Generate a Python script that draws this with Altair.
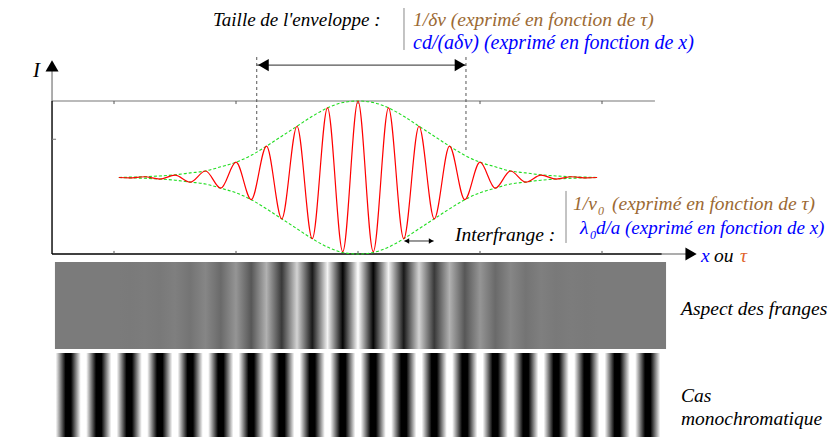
import altair as alt
import pandas as pd

# ---------------- data ----------------
# x position in units of the axis ticks (0 = centre), I = intensity (0 = axis, 2 = max)
wave_u = [-1.96, -1.875, -1.75, -1.625, -1.5, -1.375, -1.25, -1.125, -1.0, -0.875, -0.75,
          -0.625, -0.5, -0.375, -0.25, -0.125, 0.0, 0.125, 0.25, 0.375, 0.5, 0.625, 0.75,
          0.875, 1.0, 1.125, 1.25, 1.375, 1.5, 1.625, 1.75, 1.875, 1.96]
wave_I = [1.0, 0.995, 1.01, 0.98, 1.03, 0.94, 1.085, 0.86, 1.20, 0.71, 1.41,
          0.46, 1.67, 0.20, 1.91, 0.03, 2.0, 0.03, 1.91, 0.20, 1.67, 0.46, 1.41,
          0.71, 1.20, 0.86, 1.085, 0.94, 1.03, 0.98, 1.01, 0.995, 1.0]
env_amp = [0.0, 0.005, 0.01, 0.02, 0.035, 0.06, 0.085, 0.14, 0.20, 0.29, 0.41,
           0.54, 0.67, 0.80, 0.91, 0.98, 1.0, 0.98, 0.91, 0.80, 0.67, 0.54, 0.41,
           0.29, 0.20, 0.14, 0.085, 0.06, 0.035, 0.02, 0.01, 0.005, 0.0]
mono_dark = [-2.375, -2.125, -1.875, -1.625, -1.375, -1.125, -0.875, -0.625, -0.375, -0.125,
             0.125, 0.375, 0.625, 0.875, 1.125, 1.375, 1.625, 1.875, 2.125, 2.375]
mono_bright = [-2.5, -2.25, -2.0, -1.75, -1.5, -1.25, -1.0, -0.75, -0.5, -0.25, 0.0,
               0.25, 0.5, 0.75, 1.0, 1.25, 1.5, 1.75, 2.0, 2.25, 2.5]
tick_u = [-2, -1, 0, 1, 2]
envelope_marks = [-0.83, 0.885]

# ---------------- scales ----------------
W, H = 824, 429
xs = alt.Scale(domain=[-350 / 122, (W - 350) / 122], range=[0, W], nice=False, zero=False)
ys = alt.Scale(domain=[(246 - H) / 76.5, 246 / 76.5], range=[H, 0], nice=False, zero=False)
I_BOTTOM = (246 - H) / 76.5


def X(f):
    return alt.X(f, type="quantitative", scale=xs, axis=None)


def Y(f):
    return alt.Y(f, type="quantitative", scale=ys, axis=None)


def seg(rows, color, width=1.0, dash=None):
    df = pd.DataFrame(rows, columns=["x1", "x2", "y1", "y2"])
    kw = dict(color=color, strokeWidth=width)
    if dash:
        kw["strokeDash"] = dash
    return alt.Chart(df).mark_rule(**kw).encode(x=X("x1"), x2="x2", y=Y("y1"), y2="y2")


def tri(u, i, shape, size):
    df = pd.DataFrame({"u": [u], "i": [i]})
    return alt.Chart(df).mark_point(shape=shape, filled=True, color="black", size=size,
                                    opacity=1, strokeWidth=0).encode(x=X("u"), y=Y("i"))


def gray_of(I):
    g = 123 * I if I <= 1 else 123 + 132 * (I - 1)
    g = int(round(max(0, min(255, g))))
    return "#%02x%02x%02x" % (g, g, g)


def band(uL, uR, iTop, iBot, stops):
    df = pd.DataFrame({"x1": [uL], "x2": [uR], "y1": [iTop], "y2": [iBot]})
    grad = alt.LinearGradient(gradient="linear", x1=0, x2=1, y1=0, y2=0,
                              stops=[alt.GradientStop(offset=o, color=c) for o, c in stops])
    return alt.Chart(df).mark_rect(fill=grad, strokeWidth=0).encode(
        x=X("x1"), x2="x2", y=Y("y1"), y2="y2")


# aspect band (gray level follows the intensity)
aL, aR = -2.484, 2.525
a_stops = [(0.0, gray_of(1.0))]
for u, I in zip(wave_u, wave_I):
    a_stops.append(((u - aL) / (aR - aL), gray_of(I)))
a_stops.append((1.0, gray_of(1.0)))
band_aspect = band(aL, aR, -0.105, -1.242, a_stops)

# monochromatic band
mL, mR = -2.484, 2.492
half = 0.022
pts = [(d, "#000000") for d in mono_dark] + [(b, "#ffffff") for b in mono_bright]
pts.sort()
m_stops = []
for u, c in pts:
    for p in (u - half, u + half):
        o = (p - mL) / (mR - mL)
        if 0 <= o <= 1:
            m_stops.append((o, c))
band_mono = band(mL, mR, -1.294, I_BOTTOM, m_stops)

# wave and envelope
wave_df = pd.DataFrame({"u": wave_u, "I": wave_I})
wave = alt.Chart(wave_df).mark_line(color="#ff0000", strokeWidth=1.2, interpolate="monotone").encode(
    x=X("u"), y=Y("I"))

env_rows = []
for u, a in zip(wave_u, env_amp):
    env_rows.append({"u": u, "I": 1 + a, "side": "up"})
    env_rows.append({"u": u, "I": 1 - a, "side": "down"})
env_df = pd.DataFrame(env_rows)
env = alt.Chart(env_df).mark_line(color="#22dd22", strokeWidth=1.1, strokeDash=[3, 2],
                                  interpolate="monotone").encode(
    x=X("u"), y=Y("I"), detail="side:N")

# axes / frame
frame = [
    seg([[-2.508, 2.434, 2.0, 2.0]], "#777777", 1.2),             # top grey line
    seg([[-2.508, -2.508, 0.0, 2.0]], "#000000", 1.4),            # y axis (black part)
    seg([[-2.508, -2.508, 2.0, 2.40]], "#777777", 1.2),           # y axis (grey part)
    seg([[-2.508, 2.49, 0.0, 0.0]], "#000000", 1.4),              # x axis (black part)
    seg([[2.49, 2.70, 0.0, 0.0]], "#777777", 1.2),                # x axis (grey part)
    seg([[-2.508, -2.475, 1.5, 1.5]], "#777777", 1.0),            # y tick
    seg([[t, t, 2.0, 1.96] for t in tick_u], "#555555", 1.0),     # top ticks
    seg([[t, t, 0.0, 0.04] for t in tick_u], "#555555", 1.0),     # bottom ticks
    tri(-2.508, 2.46, "triangle-up", 170),
    tri(2.73, 0.0, "triangle-right", 170),
]

# envelope width arrow
env_arrow = [
    seg([[envelope_marks[0], envelope_marks[0], 2.575, 1.36],
         [envelope_marks[1], envelope_marks[1], 2.575, 1.32]], "#555555", 1.0, [3, 3]),
    seg([[envelope_marks[0], envelope_marks[1], 2.47, 2.47]], "#555555", 1.2),
    tri(-0.775, 2.47, "triangle-left", 150),
    tri(0.836, 2.47, "triangle-right", 150),
]
# interfrange arrow
inter_arrow = [
    seg([[0.38, 0.62, 0.17, 0.17]], "#333333", 1.0),
    tri(0.40, 0.17, "triangle-left", 30),
    tri(0.60, 0.17, "triangle-right", 30),
]
dividers = [
    seg([[0.377, 0.377, 3.216, 2.667]], "#888888", 1.0),
    seg([[1.705, 1.705, 0.824, 0.144]], "#888888", 1.0),
]

FONT = "Liberation Serif, DejaVu Serif, serif"
BROWN = "#9c6a34"
BLUE = "#0000ff"


def txt(s, px, py, color="black", size=19.5):
    df = pd.DataFrame({"t": [s]})
    return alt.Chart(df).mark_text(align="left", baseline="alphabetic", font=FONT,
                                   fontStyle="italic", fontSize=size, color=color).encode(
        x=alt.value(px - 8), y=alt.value(py - 8), text="t:N")


texts = [
    txt("Taille de l'enveloppe :", 213, 26, size=19),
    txt("1/δν (exprimé en fonction de τ)", 413, 26, BROWN, 19.5),
    txt("cd/(aδν) (exprimé en fonction de x)", 413, 49, BLUE, 20),
    txt("Interfrange :", 455, 241),
    txt("1/ν", 573, 210, BROWN),
    txt("0", 598, 215, BROWN, 12),
    txt("(exprimé en fonction de τ)", 612, 210, BROWN),
    txt("λ", 580, 234, BLUE),
    txt("0", 590, 239, BLUE, 12),
    txt("d/a (exprimé en fonction de x)", 596, 234, BLUE, 19),
    txt("x", 701, 262, BLUE),
    txt("ou", 714, 262),
    txt("τ", 740, 262, "#e0642c"),
    txt("Aspect des franges", 681, 315),
    txt("Cas", 681, 402),
    txt("monochromatique", 681, 425),
    txt("I", 33, 77, "black", 21),
]

chart = alt.layer(
    band_aspect, band_mono, *frame, env, wave, *env_arrow, *inter_arrow, *dividers, *texts
).properties(
    width=W, height=H, padding=0, autosize=alt.AutoSizeParams(type="none"),
    background="white"
).configure_view(stroke=None)

chart.save("out.html", embed_options={"renderer": "svg", "actions": False})
